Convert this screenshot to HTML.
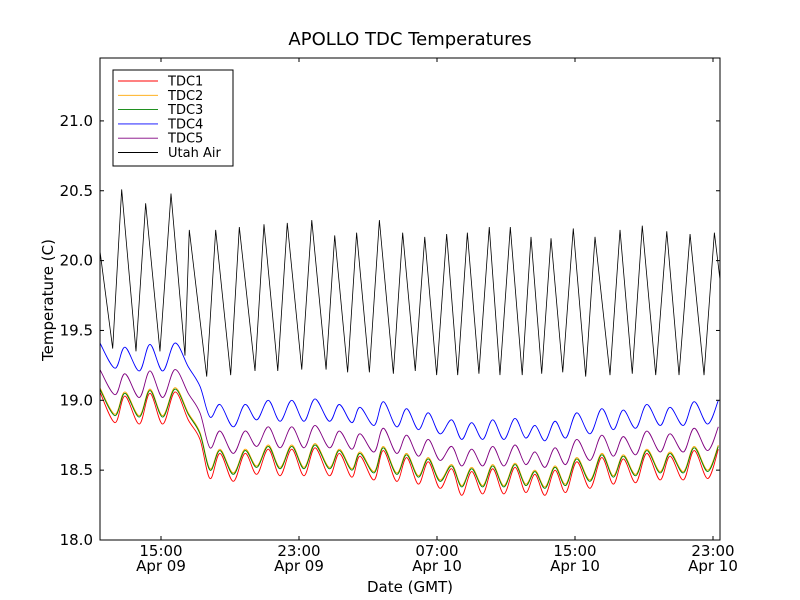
<!DOCTYPE html>
<html><head><meta charset="utf-8"><style>
body{margin:0;background:#fff;}
svg{display:block;font-family:"DejaVu Sans","Liberation Sans",sans-serif;}
</style></head><body>
<svg id="chart" width="800" height="600" viewBox="0 0 800 600">
<rect width="800" height="600" fill="#fff"/>
<text x="410" y="45" font-size="18" text-anchor="middle">APOLLO TDC Temperatures</text>
<g id="series"></g>
<rect x="100" y="58" width="620" height="482" fill="none" stroke="#000" stroke-width="1"/>
<g id="axes"></g>
<text x="410" y="592" font-size="15" text-anchor="middle">Date (GMT)</text>
<text transform="translate(53,300) rotate(-90)" font-size="15" text-anchor="middle">Temperature (C)</text>
<g>
<rect x="113" y="70" width="120" height="96" fill="#fff" stroke="#000" stroke-width="1"/>
<g id="legend-entries"></g>
</g>
</svg>
<script>
const smoothTimes=[11.46,12.33,12.91,13.74,14.36,15.10,15.81,16.58,17.26,17.84,18.42,19.19,19.87,20.55,21.22,21.90,22.58,23.29,23.93,24.76,25.34,26.06,26.54,27.35,27.89,28.66,29.24,29.92,30.50,31.17,31.85,32.43,33.01,33.65,34.23,34.88,35.52,36.14,36.68,37.26,37.84,38.46,39.10,39.87,40.55,41.22,41.80,42.52,43.16,43.93,44.51,45.28,45.91,46.69,47.31];
const tdc1=[19.06,18.84,19.03,18.83,19.05,18.83,19.06,18.86,18.72,18.44,18.62,18.42,18.62,18.47,18.65,18.46,18.65,18.46,18.66,18.46,18.62,18.45,18.60,18.43,18.64,18.42,18.59,18.40,18.56,18.37,18.51,18.32,18.49,18.33,18.51,18.33,18.52,18.34,18.47,18.32,18.50,18.34,18.56,18.37,18.59,18.40,18.58,18.41,18.62,18.43,18.60,18.43,18.64,18.44,18.65];
const tdc2=[19.09,18.90,19.06,18.89,19.08,18.89,19.09,18.91,18.77,18.51,18.65,18.48,18.65,18.53,18.68,18.52,18.68,18.52,18.69,18.52,18.65,18.51,18.63,18.49,18.67,18.48,18.62,18.46,18.59,18.43,18.54,18.39,18.52,18.39,18.54,18.39,18.55,18.40,18.50,18.38,18.53,18.40,18.59,18.43,18.62,18.46,18.61,18.47,18.65,18.49,18.63,18.49,18.67,18.50,18.68];
const tdc3=[19.08,18.89,19.05,18.88,19.07,18.88,19.08,18.90,18.76,18.50,18.64,18.47,18.64,18.52,18.67,18.51,18.67,18.51,18.68,18.51,18.64,18.50,18.62,18.48,18.66,18.47,18.61,18.45,18.58,18.42,18.53,18.38,18.51,18.38,18.53,18.38,18.54,18.39,18.49,18.37,18.52,18.39,18.58,18.42,18.61,18.45,18.60,18.46,18.64,18.48,18.62,18.48,18.66,18.49,18.67];
const tdc4=[19.41,19.23,19.38,19.21,19.40,19.21,19.41,19.24,19.10,18.88,18.97,18.81,18.97,18.86,19.00,18.85,19.00,18.85,19.01,18.85,18.97,18.84,18.95,18.82,18.99,18.81,18.94,18.79,18.91,18.76,18.86,18.72,18.84,18.72,18.86,18.72,18.87,18.73,18.82,18.71,18.85,18.73,18.91,18.76,18.94,18.79,18.93,18.80,18.97,18.82,18.95,18.82,18.99,18.83,19.00];
const tdc5=[19.22,19.04,19.19,19.02,19.21,19.02,19.22,19.05,18.91,18.66,18.78,18.62,18.78,18.67,18.81,18.66,18.81,18.66,18.82,18.66,18.78,18.65,18.76,18.63,18.80,18.62,18.75,18.60,18.72,18.57,18.67,18.53,18.65,18.53,18.67,18.53,18.68,18.54,18.63,18.52,18.66,18.54,18.72,18.57,18.75,18.60,18.74,18.61,18.78,18.63,18.76,18.63,18.80,18.64,18.81];
const airTimes=[11.46,12.20,12.72,13.55,14.11,14.94,15.58,16.39,16.64,17.65,18.17,19.04,19.54,20.45,20.97,21.77,22.32,23.16,23.74,24.57,25.07,25.82,26.34,27.08,27.66,28.47,29.01,29.74,30.29,30.98,31.56,32.20,32.76,33.43,34.03,34.65,35.25,35.94,36.45,37.07,37.61,38.29,38.90,39.62,40.16,41.03,41.61,42.32,42.90,43.68,44.32,45.03,45.67,46.48,47.08,47.41];
const utahAir=[20.07,19.37,20.51,19.35,20.41,19.35,20.48,19.32,20.22,19.17,20.22,19.18,20.24,19.21,20.26,19.21,20.27,19.22,20.29,19.22,20.18,19.20,20.20,19.20,20.29,19.19,20.20,19.21,20.17,19.18,20.19,19.18,20.20,19.19,20.24,19.18,20.24,19.18,20.17,19.19,20.16,19.20,20.23,19.17,20.17,19.18,20.22,19.19,20.25,19.18,20.21,19.18,20.19,19.18,20.20,19.86];
const yTicks=[18.0,18.5,19.0,19.5,20.0,20.5,21.0];
const yTickLabels=["18.0","18.5","19.0","19.5","20.0","20.5","21.0"];
const xTicks=[15,23,31,39,47];
const xTickTimes=["15:00","23:00","07:00","15:00","23:00"];
const xTickDates=["Apr 09","Apr 09","Apr 10","Apr 10","Apr 10"];
const seriesNames=["TDC1","TDC2","TDC3","TDC4","TDC5","Utah Air"];

const NS="http://www.w3.org/2000/svg";
function xs(t){return 161+(t-15)*17.25;}
function ys(v){return 540-(v-18)*139.7;}
function mk(tag,attrs,parent){const e=document.createElementNS(NS,tag);for(const k in attrs)e.setAttribute(k,attrs[k]);parent.appendChild(e);return e;}
function smoothPath(ts,vs){
  const p=ts.map((t,i)=>[xs(t),ys(vs[i])]);
  let d="M"+p[0][0].toFixed(2)+","+p[0][1].toFixed(2);
  for(let i=0;i<p.length-1;i++){
    const p0=p[i-1]||p[i],p1=p[i],p2=p[i+1],p3=p[i+2]||p2;
    const c1=[p1[0]+(p2[0]-p0[0])/6,p1[1]+(p2[1]-p0[1])/6];
    const c2=[p2[0]-(p3[0]-p1[0])/6,p2[1]-(p3[1]-p1[1])/6];
    d+="C"+c1[0].toFixed(2)+","+c1[1].toFixed(2)+" "+c2[0].toFixed(2)+","+c2[1].toFixed(2)+" "+p2[0].toFixed(2)+","+p2[1].toFixed(2);
  }
  return d;
}
function linePath(ts,vs){return ts.map((t,i)=>(i?"L":"M")+xs(t).toFixed(2)+","+ys(vs[i]).toFixed(2)).join("");}

const sg=document.getElementById("series");
const defs=[
 {name:"tdc4-line",color:"#0000ff",vals:tdc4,times:smoothTimes,smooth:true},
 {name:"tdc5-line",color:"#800080",vals:tdc5,times:smoothTimes,smooth:true},
 {name:"tdc1-line",color:"#ff0000",vals:tdc1,times:smoothTimes,smooth:true},
 {name:"tdc2-line",color:"#ffa500",vals:tdc2,times:smoothTimes,smooth:true},
 {name:"tdc3-line",color:"#008000",vals:tdc3,times:smoothTimes,smooth:true},
 {name:"utah-air-line",color:"#000000",vals:utahAir,times:airTimes,smooth:false}
];
const clip=mk("clipPath",{id:"pc"},mk("defs",{},sg));
mk("rect",{x:100,y:58,width:620,height:482},clip);
defs.forEach(s=>{
  const p=mk("path",{d:s.smooth?smoothPath(s.times,s.vals):linePath(s.times,s.vals),fill:"none",stroke:s.color,"stroke-width":s.smooth?0.9:0.8,"clip-path":"url(#pc)"},sg);
  
  
});

const ax=document.getElementById("axes");
yTicks.forEach((v,i)=>{
  const y=ys(v);
  const a=mk("line",{x1:100,x2:104,y1:y,y2:y,stroke:"#000"},ax);
  
  
  const b=mk("line",{x1:716,x2:720,y1:y,y2:y,stroke:"#000"},ax);
  
  
  const t=mk("text",{x:93,y:y+5,"font-size":15,"text-anchor":"end"},ax);
  t.textContent=yTickLabels[i];
  
  
});
xTicks.forEach((tv,i)=>{
  const x=xs(tv);
  const a=mk("line",{x1:x,x2:x,y1:536,y2:540,stroke:"#000"},ax);
  
  
  const b=mk("line",{x1:x,x2:x,y1:58,y2:62,stroke:"#000"},ax);
  
  
  const t1=mk("text",{x:x,y:556,"font-size":15,"text-anchor":"middle"},ax);
  t1.textContent=xTickTimes[i];
  
  
  const t2=mk("text",{x:x,y:571,"font-size":15,"text-anchor":"middle"},ax);
  t2.textContent=xTickDates[i];
  
  
});

const lg=document.getElementById("legend-entries");
const lcolors=["#ff0000","#ffa500","#008000","#0000ff","#800080","#000000"];
seriesNames.forEach((n,i)=>{
  const y=81+i*14.3;
  const g=mk("g",{},lg);
  
  
  mk("line",{x1:118,x2:158,y1:y,y2:y,stroke:lcolors[i],"stroke-width":0.9},g);
  const t=mk("text",{x:168,y:y+4.5,"font-size":13},g);
  t.textContent=n;
});
</script>
</body></html>
